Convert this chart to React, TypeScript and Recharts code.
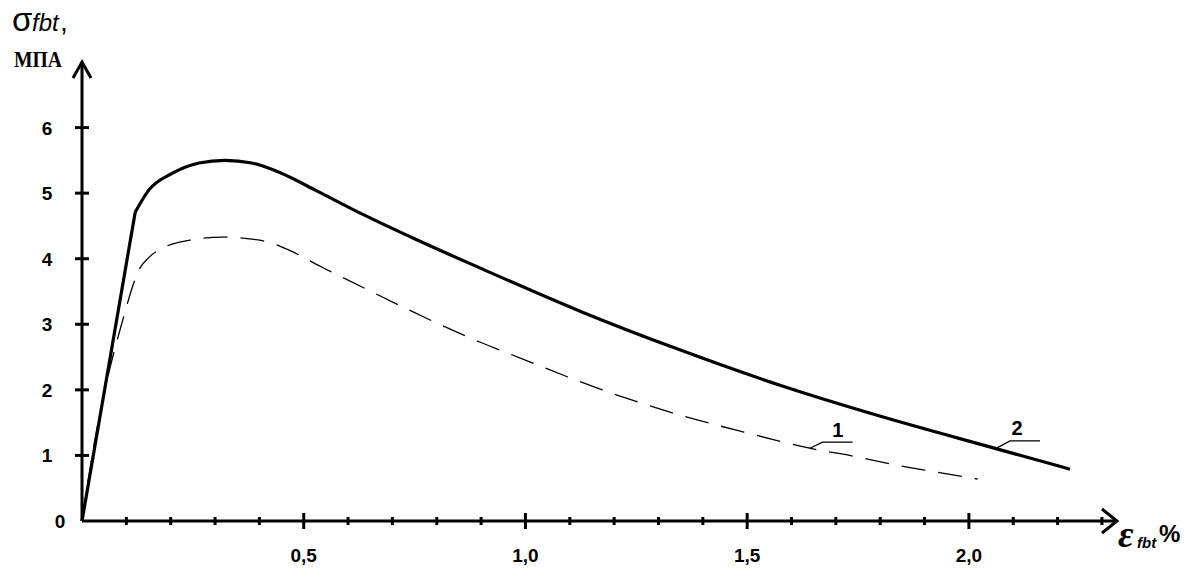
import React from 'react';
import { LineChart, Line, XAxis, YAxis, ReferenceDot } from 'recharts';

// curve 1 (dashed): strain, % / stress, MPa
const strain1 = [0, 0.029, 0.09, 0.131, 0.151, 0.187, 0.241, 0.316, 0.368, 0.422, 0.467, 0.541, 0.586, 0.897, 0.994, 1.161, 1.326, 1.49, 1.641, 1.754, 1.838, 1.923, 2.02];
const stress1 = [0, 1.23, 3.02, 3.86, 4.02, 4.18, 4.28, 4.33, 4.31, 4.25, 4.13, 3.87, 3.72, 2.73, 2.47, 2.03, 1.66, 1.36, 1.11, 0.97, 0.85, 0.75, 0.64];

// curve 2 (solid): straight elastic part, then the curved branch
const strain2Rise = [0, 0.12];
const stress2Rise = [0, 4.71];
const strain2 = [0.12, 0.151, 0.203, 0.264, 0.322, 0.383, 0.451, 0.525, 0.638, 0.751, 0.897, 1.123, 1.348, 1.574, 1.799, 2.063, 2.228];
const stress2 = [4.71, 5.05, 5.3, 5.46, 5.5, 5.46, 5.3, 5.05, 4.66, 4.3, 3.86, 3.2, 2.61, 2.07, 1.6, 1.1, 0.79];

const xTicks = [0.1, 0.2, 0.3, 0.4, 0.5, 0.6, 0.7, 0.8, 0.9, 1.0, 1.1, 1.2, 1.3, 1.4, 1.5, 1.6, 1.7, 1.8, 1.9, 2.0, 2.1, 2.2, 2.3];
const xLabelled = [0.5, 1.0, 1.5, 2.0];
const yTicks = [0, 1, 2, 3, 4, 5, 6];
const xMax = 2.334;
const yMax = 7;

// curve number labels and the curve point each one points at
const curveLabels = ['1', '2'];
const labelAnchorX = [1.641, 2.059];
const labelAnchorY = [1.11, 1.1];

const toPoints = (xs: number[], ys: number[]) => xs.map((x, i) => ({ x, y: ys[i] }));

const sans = '"Liberation Sans", Arial, sans-serif';
const serif = '"Liberation Serif", "Times New Roman", serif';

const XTick = (props: any) => {
  const { x, y, payload } = props;
  const v = payload.value;
  const major = xLabelled.some((m) => Math.abs(m - v) < 1e-6);
  const h = major ? 8 : 4;
  return (
    <g>
      <line x1={x} x2={x} y1={y - h} y2={y + h} stroke="#000" strokeWidth={3} />
      {major && (
        <text x={x} y={y + 41} textAnchor="middle" fontFamily={sans} fontWeight="bold" fontSize={19} fill="#000">
          {v.toFixed(1).replace('.', ',')}
        </text>
      )}
    </g>
  );
};

const YTick = (props: any) => {
  const { x, y, payload } = props;
  const v = payload.value;
  return (
    <g>
      {v !== 0 && <line x1={x - 7} x2={x + 7} y1={y} y2={y} stroke="#000" strokeWidth={3} />}
      <text x={v === 0 ? x - 22 : x - 35} y={y + 7} textAnchor="middle" fontFamily={sans} fontWeight="bold" fontSize={19} fill="#000">
        {v}
      </text>
    </g>
  );
};

const XArrow = (props: any) => {
  const { cx, cy } = props;
  return (
    <g>
      <polyline points={`${cx - 15},${cy - 12} ${cx},${cy} ${cx - 15},${cy + 12}`} fill="none" stroke="#000" strokeWidth={3} />
      <text fontFamily={serif} fontWeight="bold" fontStyle="italic" fill="#000">
        <tspan x={cx + 1} y={cy + 26} fontSize={38}>ε</tspan>
        <tspan x={cx + 20} y={cy + 27} fontSize={15} fontFamily={sans}>fbt</tspan>
        <tspan x={cx + 42} y={cy + 21} fontSize={24} fontFamily={sans} fontStyle="normal">%</tspan>
      </text>
    </g>
  );
};

const YArrow = (props: any) => {
  const { cx, cy } = props;
  return (
    <g>
      <polyline points={`${cx - 9},${cy + 16} ${cx},${cy} ${cx + 9},${cy + 16}`} fill="none" stroke="#000" strokeWidth={3} />
      <text fontFamily={sans} fill="#000">
        <tspan x={cx - 70} y={cy - 31} fontSize={33}>σ</tspan>
        <tspan x={cx - 50} y={cy - 31} fontSize={24} fontStyle="italic">fbt</tspan>
        <tspan x={cx - 22} y={cy - 31} fontSize={28}>,</tspan>
      </text>
      <text x={cx - 68} y={cy + 5} fontFamily={serif} fontWeight="bold" fontSize={23} textLength={48} lengthAdjust="spacingAndGlyphs" fill="#000">
        МПА
      </text>
    </g>
  );
};

const makePointer = (label: string, dx: number, dy: number, len: number, tx: number, ty: number) => (props: any) => {
  const { cx, cy } = props;
  return (
    <g>
      <polyline points={`${cx},${cy} ${cx + dx},${cy + dy} ${cx + dx + len},${cy + dy}`} fill="none" stroke="#000" strokeWidth={1.2} />
      <text x={cx + tx} y={cy + ty} textAnchor="middle" fontFamily={sans} fontWeight="bold" fontSize={20} fill="#000">
        {label}
      </text>
    </g>
  );
};

const pointerShapes = [
  makePointer(curveLabels[0], 13, -6, 30, 28, -11),
  makePointer(curveLabels[1], 15, -8, 30, 22, -14),
];

export default function App() {
  const curve1 = toPoints(strain1, stress1);
  const curve2Rise = toPoints(strain2Rise, stress2Rise);
  const curve2 = toPoints(strain2, stress2);

  return (
    <div style={{ position: 'absolute', left: 0, top: 0, width: 1190, height: 573, background: '#fff' }}>
      <LineChart width={1190} height={573} margin={{ top: 62, right: 73, bottom: 22, left: 22 }}>
        <XAxis
          dataKey="x"
          type="number"
          domain={[0, xMax]}
          ticks={xTicks}
          interval={0}
          height={30}
          tickSize={0}
          tickMargin={0}
          tick={<XTick />}
          axisLine={{ stroke: '#000', strokeWidth: 3 }}
        />
        <YAxis
          type="number"
          domain={[0, yMax]}
          ticks={yTicks}
          interval={0}
          width={60}
          tickSize={0}
          tickMargin={0}
          tick={<YTick />}
          axisLine={{ stroke: '#000', strokeWidth: 3 }}
        />
        <Line
          data={curve1}
          dataKey="y"
          type="monotone"
          stroke="#000"
          strokeWidth={1.3}
          strokeDasharray="24 13"
          dot={false}
          activeDot={false}
          isAnimationActive={false}
        />
        <Line
          data={curve2Rise}
          dataKey="y"
          type="linear"
          stroke="#000"
          strokeWidth={3.2}
          dot={false}
          activeDot={false}
          isAnimationActive={false}
        />
        <Line
          data={curve2}
          dataKey="y"
          type="monotone"
          stroke="#000"
          strokeWidth={3.2}
          dot={false}
          activeDot={false}
          isAnimationActive={false}
        />
        <ReferenceDot x={xMax} y={0} r={0} ifOverflow="visible" shape={XArrow} />
        <ReferenceDot x={0} y={yMax} r={0} ifOverflow="visible" shape={YArrow} />
        {curveLabels.map((lab, i) => (
          <ReferenceDot key={lab} x={labelAnchorX[i]} y={labelAnchorY[i]} r={0} ifOverflow="visible" shape={pointerShapes[i]} />
        ))}
      </LineChart>
    </div>
  );
}
